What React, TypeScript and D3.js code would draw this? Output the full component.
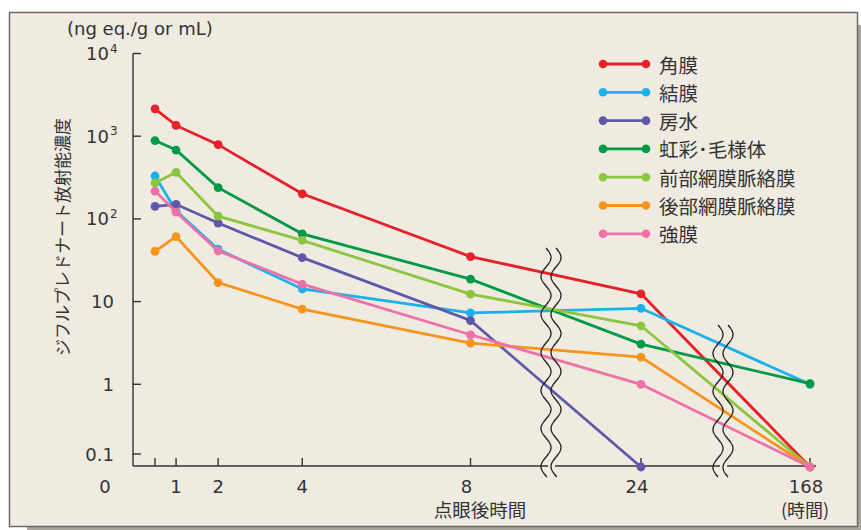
import React from "react";
import * as d3 from "d3";

const times = [0.5, 1, 2, 4, 8, 24, 168];
const seriesNames = ["角膜", "結膜", "房水", "虹彩･毛様体", "前部網膜脈絡膜", "後部網膜脈絡膜", "強膜"];
const seriesColors = ["#e8202a", "#1cb0ea", "#5d58a7", "#009a46", "#8cc63f", "#f7941d", "#ee72a7"];
const cornea = [2140, 1350, 790, 201, 35, 12.4, 0.1];
const conjunctiva = [330, 125, 43, 14.2, 7.3, 8.3, 1.0];
const aqueous = [142, 150, 89, 34, 5.9, 0.1];
const irisCiliary = [885, 680, 239, 66, 18.7, 3.06, 1.02];
const anteriorRetina = [272, 366, 108, 55, 12.3, 5.1, 0.1];
const posteriorRetina = [40.6, 61, 17, 8.1, 3.15, 2.13, 0.1];
const sclera = [217, 121, 41, 16.3, 3.97, 1.0, 0.1];
const seriesValues = [cornea, conjunctiva, aqueous, irisCiliary, anteriorRetina, posteriorRetina, sclera];

const xTicks = [0.5, 1, 2, 4, 8, 24, 168];
const xTickLabels = ["", "1", "2", "4", "8", "24", "168"];
const yTicks = [0.1, 1, 10, 100, 1000, 10000];
const yTickMain = ["0.1", "1", "10", "10", "10", "10"];
const yTickSup = ["", "", "", "2", "3", "4"];

const BG = "#efebe1";
const TXT = "#333";
const NUMFONT = "'DejaVu Sans', sans-serif";
const JPFONT = "'Noto Sans CJK JP', sans-serif";

export default function App() {
  const x = d3.scaleLinear().domain([0, 8, 24, 168]).range([134, 470.5, 641, 810]);
  const y = d3.scaleLog().domain([0.1, 10000]).range([467, 53.5]);
  const axisY = 466;
  const axisX = 133;
  const line = d3
    .line<[number, number]>()
    .x((d) => x(d[0]))
    .y((d) => y(d[1]));

  const wavy = (cx: number, y0: number, y1: number) => {
    const P = 38;
    const A = 5;
    const pts: [number, number][] = [];
    for (let yy = y0; yy <= y1; yy += 1) {
      pts.push([cx + A * Math.sin((2 * Math.PI * (yy - y0)) / P), yy]);
    }
    return d3.line()(pts) as string;
  };
  const breaks = [
    { cx: 546, y0: 248, y1: 477 },
    { cx: 718, y0: 325, y1: 477 },
  ];

  const legendY0 = 64;
  const legendDy = 28.3;

  return (
    <div style={{ position: "absolute", left: 0, top: 0 }}>
      <svg width={861} height={530} style={{ display: "block" }}>
        <rect x={0} y={0} width={861} height={530} fill="#fff" />
        <rect x={27} y={25} width={848} height={514} fill="#a9a49c" />
        <rect x={9.5} y={12.5} width={848} height={514} fill={BG} stroke="#6e6a64" strokeWidth={1.5} />

        {/* unit label */}
        <text x={67} y={35} fontFamily={NUMFONT} fontSize={18} fill={TXT}>
          (ng eq./g or mL)
        </text>

        {/* y title */}
        <text
          transform={`translate(61,237) rotate(-90)`}
          textAnchor="middle"
          dominantBaseline="central"
          fontFamily={JPFONT}
          fontSize={17}
          fill={TXT}
        >
          ジフルプレドナート放射能濃度
        </text>

        {/* axes */}
        <line x1={axisX} x2={axisX} y1={y(10000)} y2={axisY} stroke={TXT} strokeWidth={1.4} />
        <line x1={axisX} x2={816} y1={axisY} y2={axisY} stroke={TXT} strokeWidth={1.4} />
        {yTicks.map((v, i) => {
          const yy = v === 0.1 ? y(v) - 13 : y(v);
          return (
            <g key={"yt" + i}>
              <line x1={axisX} x2={axisX + 8} y1={yy} y2={yy} stroke={TXT} strokeWidth={1.4} />
              <text
                x={yTickSup[i] ? 109 : 114}
                y={yy + 6.5}
                textAnchor="end"
                fontFamily={NUMFONT}
                fontSize={18}
                fill={TXT}
              >
                {yTickMain[i]}
              </text>
              {yTickSup[i] && (
                <text x={110} y={yy - 1} fontFamily={NUMFONT} fontSize={12} fill={TXT}>
                  {yTickSup[i]}
                </text>
              )}
            </g>
          );
        })}
        {xTicks.map((t, i) => (
          <g key={"xt" + i}>
            <line x1={x(t)} x2={x(t)} y1={axisY} y2={axisY - 8} stroke={TXT} strokeWidth={1.4} />
            {xTickLabels[i] && (
              <text
                x={x(t) - (t >= 8 ? 4 : 0)}
                y={493}
                textAnchor="middle"
                fontFamily={NUMFONT}
                fontSize={18}
                fill={TXT}
              >
                {xTickLabels[i]}
              </text>
            )}
          </g>
        ))}
        <text x={105} y={493} textAnchor="middle" fontFamily={NUMFONT} fontSize={18} fill={TXT}>
          0
        </text>
        <text x={480} y={517} textAnchor="middle" fontFamily={JPFONT} fontSize={18.5} fill={TXT}>
          点眼後時間
        </text>
        <text x={805} y={517} textAnchor="middle" fontFamily={JPFONT} fontSize={18} fill={TXT}>
          (時間)
        </text>

        {/* series */}
        {seriesValues.map((vals, si) => {
          const pts = vals.map((v, i) => [times[i], v] as [number, number]);
          return (
            <g key={"s" + si}>
              <path d={line(pts) as string} fill="none" stroke={seriesColors[si]} strokeWidth={2.8} />
              {pts.map((p, i) => (
                <circle key={i} cx={x(p[0])} cy={y(p[1])} r={4.4} fill={seriesColors[si]} />
              ))}
            </g>
          );
        })}

        {/* axis breaks */}
        {breaks.map((b, i) => (
          <g key={"b" + i}>
            <rect x={b.cx + 2} y={axisY - 3} width={7} height={6} fill={BG} />
            <path d={wavy(b.cx, b.y0, b.y1)} fill="none" stroke="#222" strokeWidth={1.3} />
            <path d={wavy(b.cx + 10, b.y0, b.y1)} fill="none" stroke="#222" strokeWidth={1.3} />
          </g>
        ))}

        {/* legend */}
        {seriesNames.map((name, i) => {
          const ly = legendY0 + i * legendDy;
          return (
            <g key={"l" + i}>
              <line x1={603} x2={646} y1={ly} y2={ly} stroke={seriesColors[i]} strokeWidth={2.8} />
              <circle cx={603} cy={ly} r={4.3} fill={seriesColors[i]} />
              <circle cx={646} cy={ly} r={4.3} fill={seriesColors[i]} />
              <text x={659} y={ly} dominantBaseline="central" fontFamily={JPFONT} fontSize={19.5} fill={TXT}>
                {name}
              </text>
            </g>
          );
        })}
      </svg>
    </div>
  );
}
